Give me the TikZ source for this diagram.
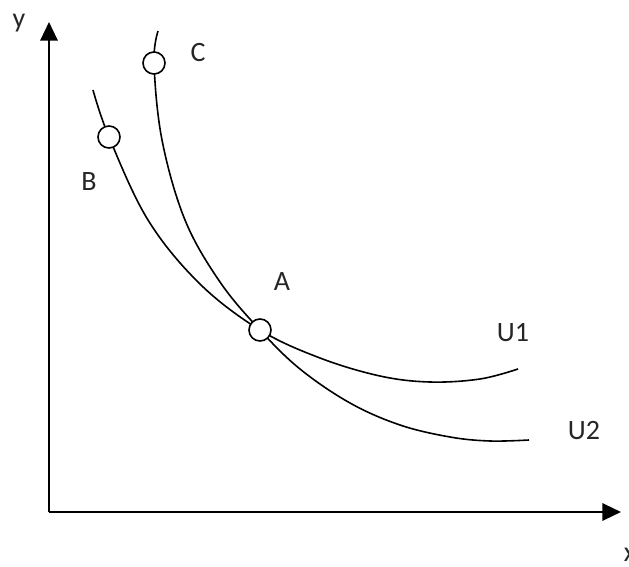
\documentclass[tikz,border=0pt]{standalone}
\usepackage{fontspec}
\setmainfont{Carlito}
\usetikzlibrary{arrows.meta, positioning}

\begin{document}
\begin{tikzpicture}[
    x=0.75pt, y=-0.75pt,
    axis/.style={line width=1.7pt, -{Triangle[length=14pt, width=13pt]}},
    curve/.style={line width=1.2pt},
    pt/.style={circle, draw, fill=white, line width=1.2pt, minimum size=16.5pt, inner sep=0pt},
    lbl/.style={font=\fontsize{21}{24}\selectfont, text=black!85}
]
\useasboundingbox (0,0) rectangle (629,567);

% === Axes ===
\coordinate (origin) at (49,512);
\coordinate (ytip) at (49,22);
\coordinate (xtip) at (621,512);
\draw[axis] (origin) -- (ytip);
\draw[axis] (origin) -- (xtip);
\node[lbl] (ylab) at (19,23) {y};
\node[lbl] (xlab) at (630,555) {x};

% === Indifference curves ===
\draw[curve] plot[smooth, tension=0.6] coordinates {(93,90) (109,137) (148,220) (200,284) (260,330) (320,358) (380,376) (430,382) (480,379) (518,369)};
\draw[curve] plot[smooth, tension=0.6] coordinates {(158,31) (154,63) (162,140) (185,220) (220,282) (260,330) (300,369) (350,403) (400,425) (450,437) (490,441) (529,440)};

% === Points ===
\node[pt] (B) at (109,137) {};
\node[pt] (C) at (154,63) {};
\node[pt] (A) at (260,330) {};

% === Labels ===
\node[lbl] (Blab) at (89,182) {B};
\node[lbl] (Clab) at (198,53) {C};
\node[lbl] (Alab) at (282,282) {A};
\node[lbl] (U1lab) at (513,333) {U1};
\node[lbl] (U2lab) at (584,431) {U2};

\end{tikzpicture}
\end{document}
